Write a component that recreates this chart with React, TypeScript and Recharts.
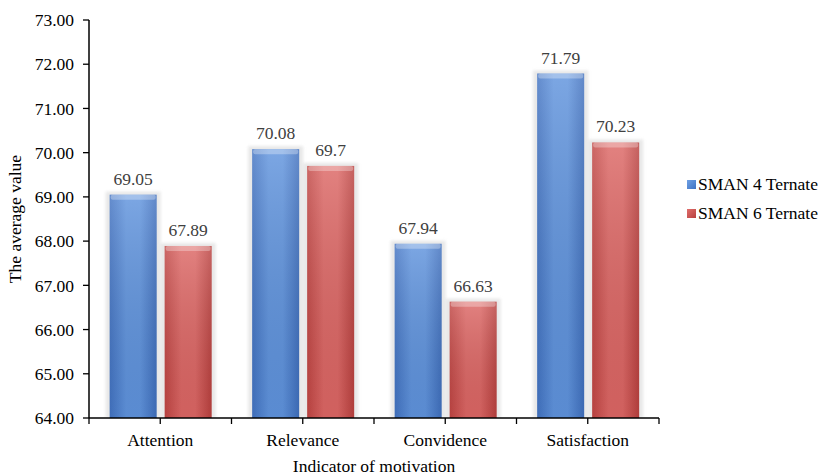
import React from "react";
import { BarChart, Bar, XAxis, YAxis, LabelList, Label } from "recharts";

const categories = ["Attention", "Relevance", "Convidence", "Satisfaction"];
const sman4 = [69.05, 70.08, 67.94, 71.79];
const sman6 = [67.89, 69.7, 66.63, 70.23];
const sman4Labels = ["69.05", "70.08", "67.94", "71.79"];
const sman6Labels = ["67.89", "69.7", "66.63", "70.23"];
const seriesNames = ["SMAN 4 Ternate", "SMAN 6 Ternate"];
const yTicks = [64, 65, 66, 67, 68, 69, 70, 71, 72, 73];

const data = categories.map((c, i) => ({
  name: c,
  s4: sman4[i],
  s6: sman6[i],
  l4: sman4Labels[i],
  l6: sman6Labels[i],
}));

const FONT = "'Liberation Serif', 'Times New Roman', serif";
const FS = 17.5;
const W = 824;
const H = 475;
const M = { top: 20, right: 165, bottom: 0, left: 0 };
const YW = 89;
const plotLeft = M.left + YW;
const plotRight = W - M.right;
const band = (plotRight - plotLeft) / categories.length;

const BarShape = (props: any) => {
  const { x, y, width, height, gid } = props;
  if (width == null || height == null || height <= 0) return null;
  return (
    <g>
      <rect x={x - 4} y={y - 3} width={width + 8} height={height + 3} fill="#d9d9d9" opacity={0.6} filter="url(#soft)" />
      <rect x={x} y={y} width={width} height={height} fill={`url(#${gid})`} />
      <rect x={x} y={y} width={width} height={height} fill="url(#vshade)" />
      <rect x={x + 1} y={y} width={width - 2} height={5} rx={2} fill="#ffffff" opacity={0.3} />
    </g>
  );
};

const XTick = (props: any) => {
  const { x, y, payload, index, visibleTicksCount } = props;
  const axisY = y - 8;
  const isLast = index === (visibleTicksCount ?? categories.length) - 1;
  return (
    <g>
      <line x1={x} x2={x} y1={axisY} y2={axisY + 6} stroke="#000" strokeWidth={1.3} />
      <line x1={x - band / 2} x2={x - band / 2} y1={axisY} y2={axisY + 6} stroke="#000" strokeWidth={1.3} />
      {isLast && (
        <line x1={x + band / 2} x2={x + band / 2} y1={axisY} y2={axisY + 6} stroke="#000" strokeWidth={1.3} />
      )}
      <text x={x} y={axisY + 28} textAnchor="middle" fontFamily={FONT} fontSize={FS} fill="#000">
        {payload.value}
      </text>
    </g>
  );
};

const legendColors = [
  { c1: "#3f73c4", c2: "#6fa0e4" },
  { c1: "#b8403e", c2: "#e06e6c" },
];

export default function App() {
  return (
    <div style={{ position: "absolute", left: 0, top: 0, width: W, height: H, background: "#fff" }}>
      <BarChart width={W} height={H} data={data} margin={M} barCategoryGap="14.5%" barGap={8}>
        <defs>
          <linearGradient id="gBlue" x1="0" y1="0" x2="1" y2="0">
            <stop offset="0%" stopColor="#4273c2" />
            <stop offset="35%" stopColor="#5f93dd" />
            <stop offset="65%" stopColor="#5f93dd" />
            <stop offset="100%" stopColor="#3f6fbd" />
          </linearGradient>
          <linearGradient id="gRed" x1="0" y1="0" x2="1" y2="0">
            <stop offset="0%" stopColor="#c04543" />
            <stop offset="35%" stopColor="#dc6664" />
            <stop offset="65%" stopColor="#dc6664" />
            <stop offset="100%" stopColor="#b9403e" />
          </linearGradient>
          <linearGradient id="vshade" x1="0" y1="0" x2="0" y2="1">
            <stop offset="0%" stopColor="#ffffff" stopOpacity={0.18} />
            <stop offset="100%" stopColor="#000000" stopOpacity={0.05} />
          </linearGradient>
          <filter id="soft" x="-20%" y="-5%" width="140%" height="110%">
            <feGaussianBlur stdDeviation="1.5" />
          </filter>
        </defs>
        <XAxis
          dataKey="name"
          axisLine={{ stroke: "#000", strokeWidth: 1.5 }}
          tickLine={false}
          tick={<XTick />}
          height={57}
          interval={0}
        >
          <Label
            content={() => (
              <text x={(plotLeft + plotRight) / 2} y={472} textAnchor="middle" fontFamily={FONT} fontSize={FS} fill="#000">
                Indicator of motivation
              </text>
            )}
          />
        </XAxis>
        <YAxis
          width={YW}
          domain={[64, 73]}
          ticks={yTicks}
          interval={0}
          allowDataOverflow
          tickFormatter={(v: number) => v.toFixed(2)}
          axisLine={{ stroke: "#000", strokeWidth: 1.5 }}
          tickLine={{ stroke: "#000", strokeWidth: 1.3 }}
          tickSize={6}
          tickMargin={9}
          tick={{ fontFamily: FONT, fontSize: FS, fill: "#000" }}
        >
          <Label
            content={() => (
              <text
                x={21}
                y={219}
                transform="rotate(-90 21 219)"
                textAnchor="middle"
                fontFamily={FONT}
                fontSize={FS}
                fill="#000"
              >
                The average value
              </text>
            )}
          />
        </YAxis>
        <Bar dataKey="s4" name={seriesNames[0]} isAnimationActive={false} shape={<BarShape gid="gBlue" />}>
          <LabelList dataKey="l4" position="top" offset={10} style={{ fontFamily: FONT, fontSize: FS, fill: "#404040" }} />
        </Bar>
        <Bar dataKey="s6" name={seriesNames[1]} isAnimationActive={false} shape={<BarShape gid="gRed" />}>
          <LabelList dataKey="l6" position="top" offset={10} style={{ fontFamily: FONT, fontSize: FS, fill: "#404040" }} />
        </Bar>
      </BarChart>
      <div style={{ position: "absolute", left: 687, top: 170, fontFamily: FONT, fontSize: FS, color: "#000", whiteSpace: "nowrap" }}>
        {seriesNames.map((n, i) => (
          <div key={n} style={{ display: "flex", alignItems: "center", height: 29 }}>
            <span
              style={{
                display: "inline-block",
                width: 9,
                height: 9,
                marginRight: 2,
                background: `linear-gradient(135deg, ${legendColors[i].c2}, ${legendColors[i].c1})`,
              }}
            />
            <span>{n}</span>
          </div>
        ))}
      </div>
    </div>
  );
}
